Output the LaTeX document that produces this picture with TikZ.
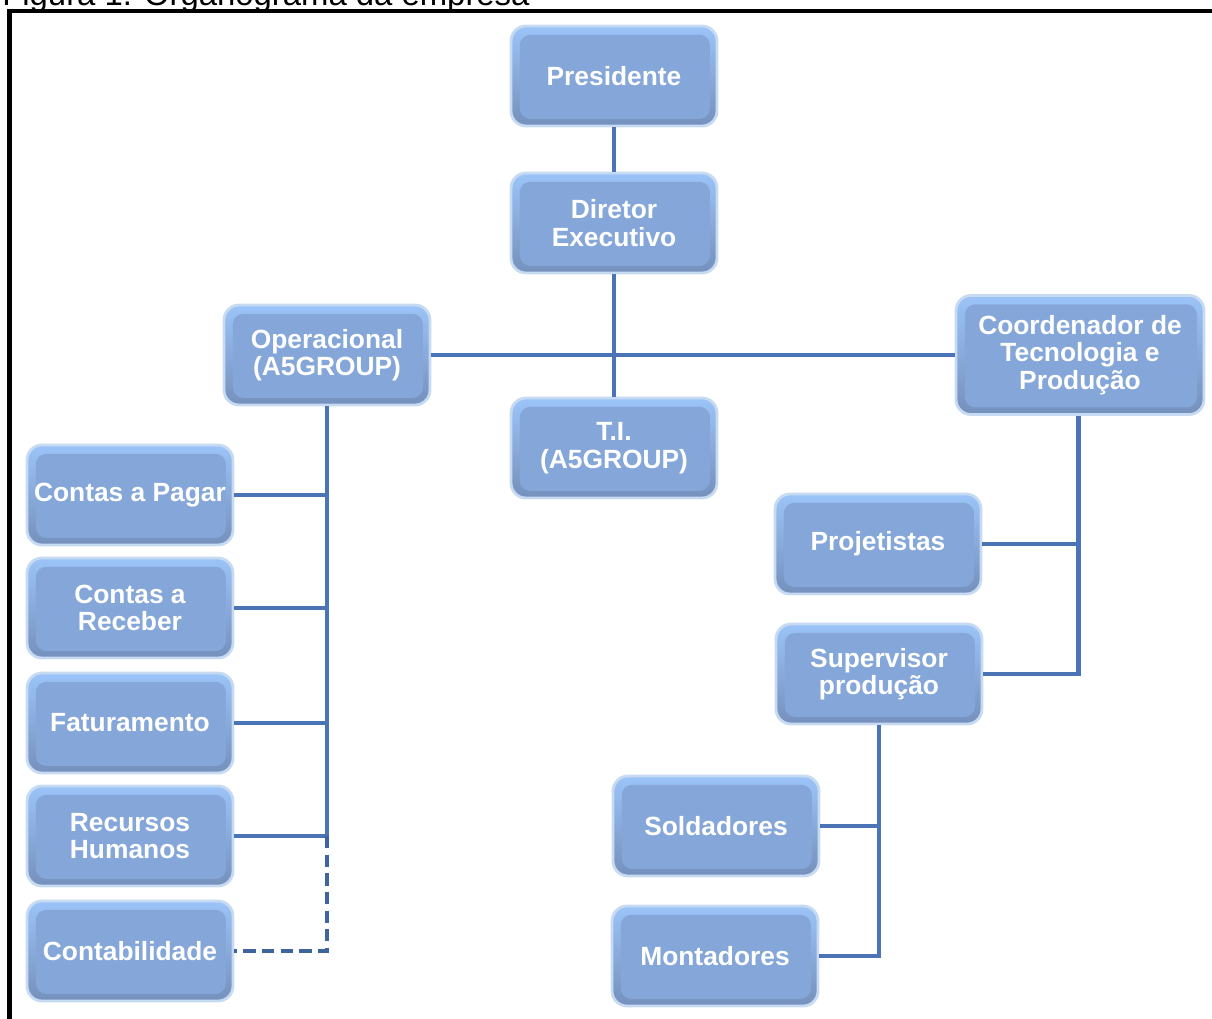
\documentclass[tikz,border=0pt]{standalone}
\usepackage{fontspec}
\setmainfont{Liberation Sans}
\definecolor{boxtop}{HTML}{9CC4F8}
\definecolor{boxbot}{HTML}{7590BC}
\definecolor{boxmid}{HTML}{84A6D9}
\definecolor{boxglow}{HTML}{C6DAF2}
\definecolor{linkblue}{HTML}{4A74B6}
\definecolor{dashblue}{HTML}{3E649F}
\tikzset{
  orgbox/.style={
    rounded corners=8.5pt, minimum width=4.12cm, minimum height=2cm,
    top color=boxtop, bottom color=boxbot, draw=boxglow, line width=1.6pt,
    text=white, align=center, inner sep=2pt,
    font=\fontsize{15}{15.6}\selectfont\bfseries,
    path picture={\fill[boxmid, rounded corners=6pt]
      ([xshift=5pt,yshift=4pt]path picture bounding box.south west) rectangle
      ([xshift=-4pt,yshift=-5pt]path picture bounding box.north east);}
  },
  bigbox/.style={orgbox, minimum width=4.96cm, minimum height=2.38cm},
  link/.style={draw=linkblue, line width=2.7pt},
  dashlink/.style={link, draw=dashblue, dash pattern=on 7pt off 3.6pt},
  frameline/.style={draw=black, line width=2.6pt}
}
\begin{document}
\begin{tikzpicture}[x=0.02cm, y=-0.02cm]
\useasboundingbox (0,0) rectangle (1212,1018);

% caption and frame
\node[anchor=base west, inner sep=0pt, font=\fontsize{18.7}{22}\selectfont] (title) at (2,5) {Figura 1. Organograma da empresa};
\coordinate (fcorner) at (9.5,11);
\coordinate (fright) at (1214,11);
\coordinate (fbottom) at (9.5,1020);
\draw[frameline] (fright) -- (fcorner) -- (fbottom);

% boxes
\node[orgbox] (pres) at (614,76) {Presidente};
\node[orgbox] (dir) at (614,223) {Diretor\\Executivo};
\node[orgbox] (oper) at (327,355) {Operacional\\(A5GROUP)};
\node[orgbox] (ti) at (614,448) {T.I.\\(A5GROUP)};
\node[bigbox] (coord) at (1080,355) {Coordenador de\\Tecnologia e\\Produção};

\node[orgbox] (cp) at (130,495) {Contas a Pagar};
\node[orgbox] (cr) at (130,608) {Contas a\\Receber};
\node[orgbox] (fat) at (130,723) {Faturamento};
\node[orgbox] (rh) at (130,836) {Recursos\\Humanos};
\node[orgbox] (cont) at (130,951) {Contabilidade};

\node[orgbox] (proj) at (878,544) {Projetistas};
\node[orgbox] (sup) at (879,674) {Supervisor\\produção};
\node[orgbox] (sold) at (716,826) {Soldadores};
\node[orgbox] (mont) at (715,956) {Montadores};

% connectors
\draw[link] (pres) -- (dir);
\draw[link] (dir) -- (ti);
\draw[link] (oper.east) -- (coord.west);

\coordinate (opbend) at (oper.south |- rh.east);
\draw[link] (oper.south) -- (opbend);
\foreach \c in {cp,cr,fat,rh}
  \draw[link] (\c.east) -- (\c.east -| oper.south);
\draw[dashlink] (opbend) |- (cont.east);

\coordinate (cox) at ([xshift=-1pt]coord.south);
\draw[link] (cox) |- (sup.east);
\draw[link] (proj.east) -- (proj.east -| cox);

\draw[link] (sup.south) |- (mont.east);
\draw[link] (sold.east) -- (sold.east -| sup.south);
\end{tikzpicture}
\end{document}
